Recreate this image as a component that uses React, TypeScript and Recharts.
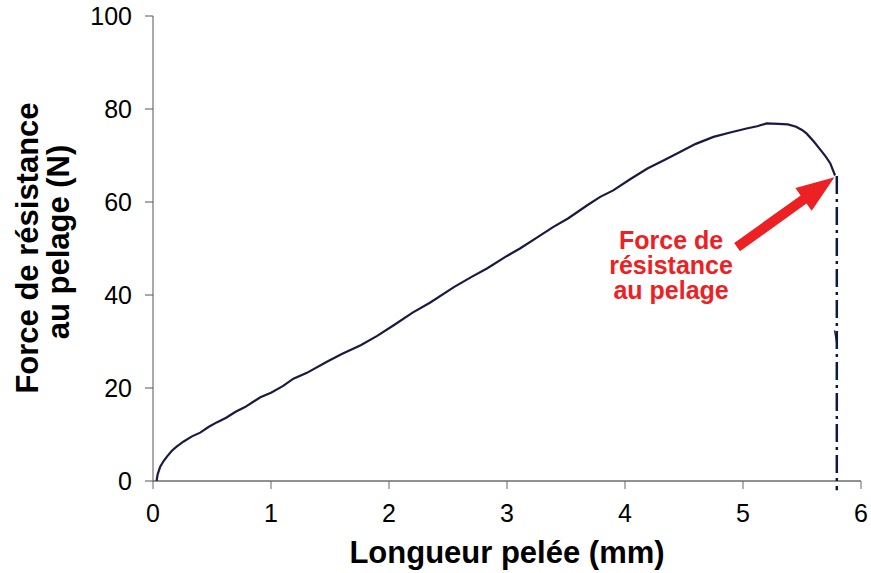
import { LineChart, Line, XAxis, YAxis, ReferenceLine, Label } from 'recharts';

// courbe force / longueur pelée
const longueur = [
  0.03, 0.04, 0.06, 0.09, 0.12, 0.16, 0.2, 0.26, 0.33, 0.4, 0.47, 0.54, 0.62, 0.7, 0.78, 0.86, 0.91,
  1.0, 1.1, 1.19, 1.3, 1.47, 1.6, 1.76, 1.9, 2.04, 2.2, 2.35, 2.55, 2.7, 2.83, 3.0, 3.11, 3.25, 3.39,
  3.52, 3.68, 3.79, 3.9, 4.05, 4.19, 4.33, 4.47, 4.6, 4.75, 4.9, 5.03, 5.12, 5.2, 5.3, 5.38, 5.45,
  5.5, 5.54, 5.6, 5.66, 5.7, 5.74, 5.78,
];
const force = [
  0, 1.5, 3, 4.3, 5.3, 6.5, 7.4, 8.5, 9.6, 10.4, 11.6, 12.6, 13.6, 14.9, 15.9, 17.2, 18.0,
  19.0, 20.4, 22.0, 23.2, 25.6, 27.3, 29.2, 31.2, 33.5, 36.2, 38.4, 41.7, 43.9, 45.7, 48.4, 50.0, 52.3, 54.6,
  56.5, 59.3, 61.1, 62.5, 65.0, 67.2, 69.0, 70.8, 72.5, 74.0, 75.0, 75.8, 76.3, 76.9, 76.8, 76.7, 76.2,
  75.5, 74.7, 73.0, 71.1, 69.8, 68.3, 65.7,
];
// petit morceau après la rupture
const chuteLongueur = [5.776, 5.796];
const chuteForce = [32.4, 29.5];

// point de rupture et départ de la flèche
const ruptureX = 5.795;
const ruptureY = 65.6;
const flecheDebut = { x: 4.95, y: 50.3 };
const flecheFin = { x: 5.775, y: 65.3 };

const xTicks = [0, 1, 2, 3, 4, 5, 6];
const yTicks = [0, 20, 40, 60, 80, 100];

const courbe = longueur.map((x, i) => ({ x, y: force[i] }));
const chute = chuteLongueur.map((x, i) => ({ x, y: chuteForce[i] }));

const FONT = "Arial, 'Liberation Sans', sans-serif";
const ROUGE = '#ED2124';

const Fleche = (p: any) => {
  const { x1, y1, x2, y2 } = p;
  const dx = x2 - x1;
  const dy = y2 - y1;
  const len = Math.hypot(dx, dy);
  const ux = dx / len, uy = dy / len;
  const nx = -uy, ny = ux;
  const hw = 5, hh = 14, hl = 38;
  const bx = x2 - ux * hl, by = y2 - uy * hl;
  const pts = [
    [x1 + nx * hw, y1 + ny * hw],
    [bx + nx * hw, by + ny * hw],
    [bx + nx * hh, by + ny * hh],
    [x2, y2],
    [bx - nx * hh, by - ny * hh],
    [bx - nx * hw, by - ny * hw],
    [x1 - nx * hw, y1 - ny * hw],
  ].map(q => q.join(',')).join(' ');
  const cx = x1 - 66;
  return (
    <g>
      <polygon points={pts} fill={ROUGE} />
      <text x={cx} y={y1 + 1.5} textAnchor="middle" fontFamily={FONT} fontWeight="bold" fontSize={25} fill={ROUGE}>
        <tspan x={cx} dy={0}>Force de</tspan>
        <tspan x={cx} dy={25}>résistance</tspan>
        <tspan x={cx} dy={25}>au pelage</tspan>
      </text>
    </g>
  );
};

const TitreY = () => (
  <g fontFamily={FONT} fontWeight="bold" fontSize={31} fill="#000">
    <text x={38} y={248} transform="rotate(-90, 38, 248)" textAnchor="middle">Force de résistance</text>
    <text x={69} y={242} transform="rotate(-90, 69, 242)" textAnchor="middle">au pelage (N)</text>
  </g>
);

export default function App() {
  return (
    <div style={{ position: 'absolute', left: 0, top: 0, background: '#fff' }}>
      <LineChart width={871} height={573} margin={{ top: 16, right: 10, left: 0, bottom: 0 }}>
        <XAxis
          type="number"
          dataKey="x"
          domain={[0, 6]}
          ticks={xTicks}
          height={92}
          stroke="#222"
          tickSize={8}
          tickMargin={15}
          tick={{ fontSize: 25, fill: '#000', fontFamily: FONT }}
          tickLine={{ stroke: '#666' }}
        >
          <Label value="Longueur pelée (mm)" position="insideBottom" offset={10}
            fontSize={31} fontWeight="bold" fill="#000" fontFamily={FONT} />
        </XAxis>
        <YAxis
          type="number"
          dataKey="y"
          domain={[0, 100]}
          ticks={yTicks}
          width={153}
          stroke="#555"
          tickSize={8}
          tickMargin={13}
          tick={{ fontSize: 25, fill: '#000', fontFamily: FONT }}
          label={<TitreY />}
        />
        <Line data={courbe} dataKey="y" type="linear" stroke="#1a1a40" strokeWidth={2.2}
          dot={false} isAnimationActive={false} />
        <Line data={chute} dataKey="y" type="linear" stroke="#1a2545" strokeWidth={1.5}
          dot={false} isAnimationActive={false} />
        <ReferenceLine
          segment={[{ x: ruptureX, y: ruptureY }, { x: ruptureX, y: -2 }]}
          ifOverflow="visible"
          stroke="#0d1b3e"
          strokeWidth={2.5}
          strokeDasharray="18 5 3 5"
        />
        <ReferenceLine
          segment={[flecheDebut, flecheFin]}
          ifOverflow="visible"
          shape={Fleche}
        />
      </LineChart>
    </div>
  );
}
